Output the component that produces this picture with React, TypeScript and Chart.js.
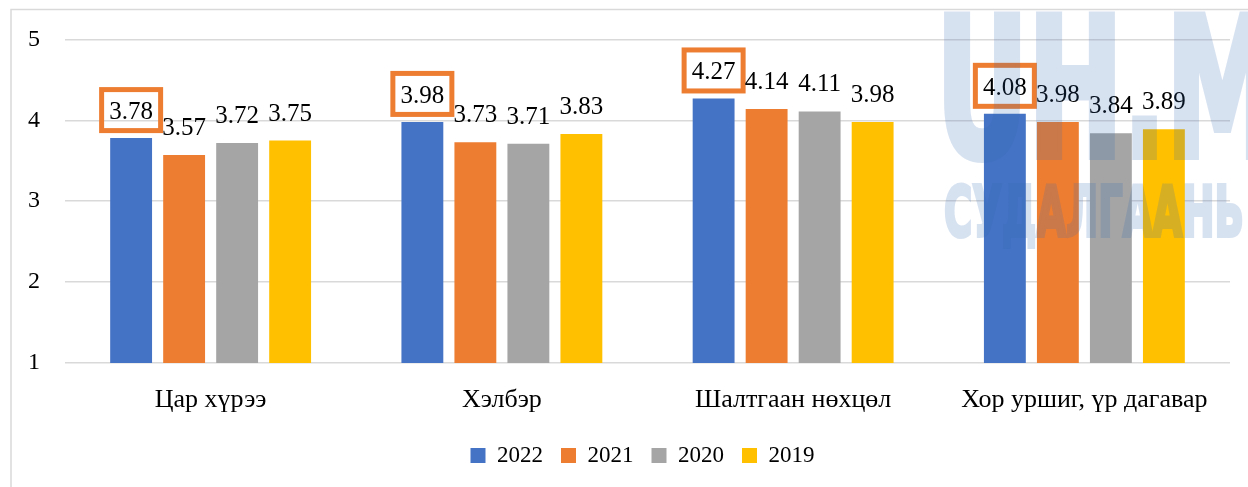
import React, { useEffect, useRef } from "react";
import { Chart, registerables } from "chart.js";

Chart.register(...registerables);

const categories = ["Цар хүрээ", "Хэлбэр", "Шалтгаан нөхцөл", "Хор уршиг, үр дагавар"];
const seriesNames = ["2022", "2021", "2020", "2019"];
const values2022 = [3.78, 3.98, 4.27, 4.08];
const values2021 = [3.57, 3.73, 4.14, 3.98];
const values2020 = [3.72, 3.71, 4.11, 3.84];
const values2019 = [3.75, 3.83, 3.98, 3.89];
const seriesColors = ["#4472C4", "#ED7D31", "#A5A5A5", "#FFC000"];
const yMin = 1;
const yMax = 5;
const yStep = 1;
const watermarkTop = "UH.M";
const watermarkBottom = "СУДАЛГААНЬ";

const SERIF = "'Liberation Serif', 'Times New Roman', serif";
const WM_FONT = "'DejaVu Sans', Roboto, sans-serif";

const framePlugin = {
  id: "frame",
  beforeDraw(chart: any) {
    const ctx = chart.ctx;
    ctx.save();
    ctx.fillStyle = "#ffffff";
    ctx.fillRect(0, 0, chart.width, chart.height);
    ctx.strokeStyle = "#d9d9d9";
    ctx.lineWidth = 1.5;
    ctx.strokeRect(11, 9.5, chart.width + 20, chart.height + 20);
    ctx.restore();
  },
};

const legendShiftPlugin = {
  id: "legendShift",
  afterLayout(chart: any) {
    const l = chart.legend;
    if (l) {
      l.left += 22;
      l.right += 22;
    }
  },
};

const labelPlugin = {
  id: "valueLabels",
  afterDatasetsDraw(chart: any) {
    const ctx = chart.ctx;
    ctx.save();
    ctx.font = `25px ${SERIF}`;
    ctx.fillStyle = "#000000";
    ctx.textAlign = "center";
    ctx.textBaseline = "alphabetic";
    chart.data.datasets.forEach((ds: any, di: number) => {
      const meta = chart.getDatasetMeta(di);
      meta.data.forEach((bar: any, i: number) => {
        const v = ds.data[i];
        const txt = v.toFixed(2);
        if (di === 0) {
          ctx.save();
          ctx.strokeStyle = "#ED7D31";
          ctx.lineWidth = 5;
          const w = 64;
          const h = 46;
          const bottom = bar.y - 5;
          ctx.strokeRect(bar.x - w / 2 + 2.5, bottom - h + 2.5, w - 5, h - 5);
          ctx.restore();
          ctx.fillText(txt, bar.x, bottom - 14);
        } else {
          ctx.fillText(txt, bar.x, bar.y - 20);
        }
      });
    });
    ctx.restore();
  },
};

const watermarkPlugin = {
  id: "watermark",
  afterDraw(chart: any) {
    const ctx = chart.ctx;
    const off = document.createElement("canvas");
    off.width = chart.width;
    off.height = chart.height;
    const o = off.getContext("2d");
    if (!o) return;
    o.fillStyle = "rgb(50,105,180)";
    o.strokeStyle = "rgb(50,105,180)";
    o.lineJoin = "miter";
    o.textBaseline = "alphabetic";
    o.textAlign = "left";

    o.save();
    o.font = `bold 192px ${WM_FONT}`;
    const w1 = o.measureText("UH.").width;
    const s1 = (1166 - 936) / w1;
    o.translate(936, 156);
    o.scale(s1, 1);
    o.lineWidth = 8;
    o.fillText(watermarkTop, 0, 0);
    o.strokeText(watermarkTop, 0, 0);
    o.restore();

    o.save();
    o.font = `bold 70px ${WM_FONT}`;
    const w2 = o.measureText(watermarkBottom).width;
    const s2 = (1244 - 944) / w2;
    o.translate(944, 236);
    o.scale(s2, 1);
    o.lineWidth = 4;
    o.fillText(watermarkBottom, 0, 0);
    o.strokeText(watermarkBottom, 0, 0);
    o.restore();

    ctx.save();
    ctx.globalAlpha = 0.19;
    ctx.drawImage(off, 0, 0, chart.width, chart.height);
    ctx.restore();
  },
};

export default function App() {
  const ref = useRef<HTMLCanvasElement | null>(null);
  useEffect(() => {
    if (!ref.current) return;
    const allSeries = [values2022, values2021, values2020, values2019];
    const chart = new Chart(ref.current, {
      type: "bar",
      data: {
        labels: categories,
        datasets: seriesNames.map((name, i) => ({
          label: name,
          data: allSeries[i],
          backgroundColor: seriesColors[i],
          borderWidth: 0,
          categoryPercentage: 0.728,
          barPercentage: 0.79,
        })),
      },
      options: {
        responsive: false,
        animation: false,
        layout: { padding: { left: 11, right: 18, top: 37, bottom: 10 } },
        plugins: {
          legend: {
            position: "bottom",
            labels: {
              font: { family: SERIF, size: 23 },
              color: "#000000",
              boxWidth: 15,
              boxHeight: 15,
              padding: 18,
            },
          },
          tooltip: { enabled: false },
          title: { display: false },
        },
        scales: {
          x: {
            grid: { display: false },
            border: { display: false },
            ticks: {
              font: { family: SERIF, size: 26 },
              color: "#000000",
              padding: 14,
              maxRotation: 0,
            },
            afterFit(s: any) {
              s.height = 63;
            },
          },
          y: {
            min: yMin,
            max: yMax,
            grid: { color: "#d9d9d9", lineWidth: 1.5, drawTicks: false },
            border: { display: false },
            ticks: {
              stepSize: yStep,
              font: { family: SERIF, size: 24 },
              color: "#000000",
              padding: 25,
            },
            afterFit(s: any) {
              s.width = 54;
            },
          },
        },
      },
      plugins: [framePlugin, legendShiftPlugin, labelPlugin, watermarkPlugin],
    });
    return () => chart.destroy();
  }, []);
  return (
    <div style={{ position: "fixed", left: 0, top: 0, width: 1248, height: 487 }}>
      <canvas ref={ref} width={1248} height={487} style={{ width: 1248, height: 487 }} />
    </div>
  );
}
